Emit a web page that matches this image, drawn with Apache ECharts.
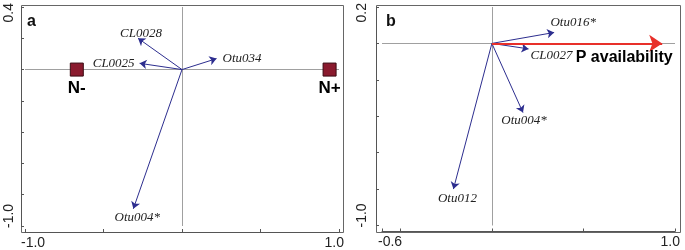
<!DOCTYPE html>
<html><head><meta charset="utf-8">
<script src="https://cdn.jsdelivr.net/npm/echarts@6/dist/echarts.min.js"></script>
<style>html,body{margin:0;padding:0;background:#fff}#c{width:685px;height:250px}</style>
</head><body><div id="c"></div><script>
// ---------- data ----------
const aXRange = [-1.0, 1.0];
const aYRange = [-1.0, 0.4];
const aXTicks = [-1.0, -0.5, 0, 0.5, 1.0];
const aYTicks = [-1.0, -0.8, -0.6, -0.4, -0.2, 0, 0.2, 0.4];
const aXTickLabels = [-1.0, 1.0];
const aYTickLabels = [-1.0, 0.4];

const aSpecies  = ['CL0028', 'CL0025', 'Otu034', 'Otu004*'];
const aSpeciesX = [-0.28, -0.27, 0.22, -0.31];
const aSpeciesY = [0.20, 0.04, 0.07, -0.89];
const aSamples  = ['N-', 'N+'];
const aSamplesX = [-0.67, 0.94];
const aSamplesY = [0, 0];

const bXRange = [-0.6, 1.0];
const bYRange = [-1.0, 0.2];
const bXTicks = [-0.6, -0.5, 0, 0.5, 1.0];
const bYTicks = [-1.0, -0.8, -0.6, -0.4, -0.2, 0, 0.2];
const bXTickLabels = [-0.6, 1.0];
const bYTickLabels = [-1.0, 0.2];

const bSpecies  = ['Otu016*', 'CL0027', 'Otu004*', 'Otu012'];
const bSpeciesX = [0.34, 0.20, 0.17, -0.21];
const bSpeciesY = [0.06, -0.03, -0.38, -0.80];
const bEnv  = ['P availability'];
const bEnvX = [0.93];
const bEnvY = [0];

// ---------- styles ----------
const NAVY = '#2d2e8f', RED = '#e8302a', AXIS = '#555', ZERO = '#a0a0a0';
const speciesFont = {fontFamily: 'Liberation Serif', fontStyle: 'italic', fontSize: 13, color: '#222'};
const labelPlace = {
  'a:CL0028':  {position: 'top', distance: 0, offset: [3, 2]},
  'a:CL0025':  {position: 'left', distance: 5, offset: [0, 0]},
  'a:Otu034':  {position: 'right', distance: 6, offset: [0, 0]},
  'a:Otu004*': {position: 'bottom', distance: 1, offset: [4, 1]},
  'b:Otu016*': {position: 'top', distance: 3, offset: [19, 0]},
  'b:CL0027':  {position: 'right', distance: 2, offset: [0, 7]},
  'b:Otu004*': {position: 'bottom', distance: 0, offset: [1, 1]},
  'b:Otu012':  {position: 'bottom', distance: 1, offset: [4, 2]}
};
const fmt = v => (+v).toFixed(1);

function arrows(names, xs, ys, gi, color, width, size, z) {
  return {
    type: 'lines', coordinateSystem: 'cartesian2d', xAxisIndex: gi, yAxisIndex: gi, z: z,
    symbol: ['none', 'arrow'], symbolSize: size, silent: true,
    itemStyle: {color: color},
    lineStyle: {color: color, width: width, opacity: 1},
    data: names.map((n, i) => ({coords: [[0, 0], [xs[i], ys[i]]], lineStyle: {color: color, width: width, opacity: 1}}))
  };
}
function labels(panel, names, xs, ys, gi) {
  return {
    type: 'scatter', xAxisIndex: gi, yAxisIndex: gi, symbolSize: 0, silent: true, z: 6,
    itemStyle: {opacity: 1},
    data: names.map((n, i) => ({
      value: [xs[i], ys[i]], name: n,
      label: Object.assign({show: true, formatter: n}, speciesFont, labelPlace[panel + ':' + n])
    }))
  };
}
function zeroLines(gi) {
  return {
    type: 'scatter', xAxisIndex: gi, yAxisIndex: gi, data: [], silent: true, z: 1,
    markLine: {silent: true, symbol: 'none', animation: false, z: 1, label: {show: false},
      lineStyle: {color: ZERO, width: 1, type: 'solid'},
      emphasis: {disabled: true},
      data: [{xAxis: 0}, {yAxis: 0}]}
  };
}
function xAxis(gi, range, ticks, lbls) {
  return {
    gridIndex: gi, type: 'value', min: range[0], max: range[1], position: 'bottom', offset: 6,
    axisLine: {show: true, onZero: false, lineStyle: {color: AXIS}},
    axisTick: {show: true, inside: true, length: 3, customValues: ticks, lineStyle: {color: AXIS}},
    axisLabel: {customValues: lbls, formatter: fmt, margin: 4, fontSize: 14, fontFamily: 'Liberation Sans',
      color: '#222', alignMinLabel: 'left', alignMaxLabel: 'right', padding: [0, -5, 0, -4]},
    splitLine: {show: false}
  };
}
function yAxis(gi, range, ticks, lbls, off, margin) {
  return {
    gridIndex: gi, type: 'value', min: range[0], max: range[1], position: 'left', offset: off,
    axisLine: {show: true, onZero: false, lineStyle: {color: AXIS}},
    axisTick: {show: true, inside: true, length: 3, customValues: ticks, lineStyle: {color: AXIS}},
    axisLabel: {customValues: lbls, formatter: fmt, rotate: 90, margin: margin, fontSize: 14, fontFamily: 'Liberation Sans',
      color: '#222', alignMinLabel: 'left', alignMaxLabel: 'right', padding: [0, -4, 0, -2]},
    splitLine: {show: false}
  };
}

const chart = echarts.init(document.getElementById('c'), null, {renderer: 'canvas'});
chart.setOption({
  animation: false,
  backgroundColor: '#fff',
  title: [
    {text: 'a', left: 22, top: 9, textStyle: {fontSize: 16, fontWeight: 'bold', fontFamily: 'Liberation Sans', color: '#111'}},
    {text: 'b', left: 381, top: 9, textStyle: {fontSize: 16, fontWeight: 'bold', fontFamily: 'Liberation Sans', color: '#111'}}
  ],
  grid: [
    {left: 25, top: 6, width: 314, height: 220},
    {left: 382, top: 6, width: 293, height: 219.5}
  ],
  xAxis: [xAxis(0, aXRange, aXTicks, aXTickLabels), xAxis(1, bXRange, bXTicks, bXTickLabels)],
  yAxis: [yAxis(0, aYRange, aYTicks, aYTickLabels, 4, 5), yAxis(1, bYRange, bYTicks, bYTickLabels, 6, 7)],
  series: [
    zeroLines(0),
    zeroLines(1),
    arrows(aSpecies, aSpeciesX, aSpeciesY, 0, NAVY, 1, 7, 4),
    labels('a', aSpecies, aSpeciesX, aSpeciesY, 0),
    {
      type: 'scatter', xAxisIndex: 0, yAxisIndex: 0, symbol: 'rect', symbolSize: 13, silent: true, z: 5,
      itemStyle: {color: '#8a1a2e', borderColor: '#3a0a12', borderWidth: 1, opacity: 1},
      label: {show: true, position: 'bottom', distance: 3, formatter: p => p.name,
        fontFamily: 'Liberation Sans', fontWeight: 'bold', fontSize: 17, color: '#000'},
      data: aSamples.map((n, i) => ({name: n, value: [aSamplesX[i], aSamplesY[i]]}))
    },
    arrows(bSpecies, bSpeciesX, bSpeciesY, 1, NAVY, 1, 7, 4),
    labels('b', bSpecies, bSpeciesX, bSpeciesY, 1),
    arrows(bEnv, bEnvX, bEnvY, 1, RED, 2.2, [10, 13], 5),
    {
      type: 'scatter', xAxisIndex: 1, yAxisIndex: 1, symbolSize: 0, silent: true, z: 6,
      itemStyle: {opacity: 1},
      label: {show: true, position: 'bottom', distance: 6, offset: [-38, 0], formatter: p => p.name,
        fontFamily: 'Liberation Sans', fontWeight: 'bold', fontSize: 16, color: '#000'},
      data: bEnv.map((n, i) => ({name: n, value: [bEnvX[i], bEnvY[i]]}))
    }
  ]
});

// frames around both panels, built from the axes' own pixel mapping
function frame(gi, xr, yr, pad) {
  const p1 = chart.convertToPixel({gridIndex: gi}, [xr[0], yr[1]]);
  const p2 = chart.convertToPixel({gridIndex: gi}, [xr[1], yr[0]]);
  const x0 = Math.round(p1[0] - pad[3]) + 0.5, y0 = Math.round(p1[1] - pad[0]) + 0.5;
  const x1 = Math.round(p2[0] + pad[1]) + 0.5, y1 = Math.round(p2[1] + pad[2]) + 0.5;
  return {type: 'rect', silent: true, z: 0,
    shape: {x: x0, y: y0, width: x1 - x0, height: y1 - y0},
    style: {fill: 'none', stroke: '#666', lineWidth: 1}};
}
chart.setOption({graphic: [
  frame(0, aXRange, aYRange, [2, 4, 6, 4]),
  frame(1, bXRange, bYRange, [2, 5, 6, 6])
]});
</script></body></html>
